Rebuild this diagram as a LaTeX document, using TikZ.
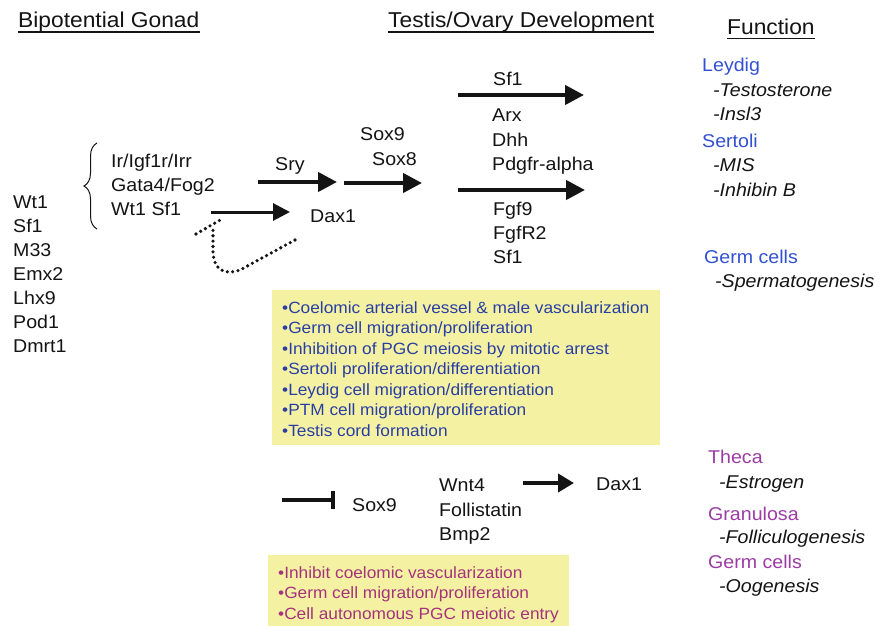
\documentclass[tikz,border=0pt]{standalone}
\usepackage{fontspec}
\setmainfont{Liberation Sans}[FakeStretch=1.06]
\usetikzlibrary{arrows.meta,decorations.pathreplacing}
\definecolor{boxyellow}{RGB}{245,241,163}
\definecolor{maleblue}{RGB}{50,80,210}
\definecolor{femalepurple}{RGB}{155,60,165}
\definecolor{boxblue}{RGB}{40,62,165}
\definecolor{boxred}{RGB}{165,50,125}
\definecolor{ink}{RGB}{20,20,20}
\begin{document}
\begin{tikzpicture}[x=1pt,y=-1pt,
  lbl/.style={anchor=base west, inner sep=0pt, text=ink, font=\fontsize{18.5}{24}\selectfont},
  fn/.style={lbl, font=\fontsize{18.5}{24}\selectfont\itshape},
  hdr/.style={anchor=base west, inner sep=0pt, text=ink, font=\fontsize{21.5}{26}\selectfont},
  boxtxt/.style={anchor=base west, inner sep=0pt, font=\fontsize{16.3}{20}\selectfont},
  uline/.style={line width=1.3pt, ink},
  bigarrow/.style={line width=4.2pt, ink, -{Triangle[length=19pt,width=19pt]}},
  thinarrow/.style={line width=3pt, ink, -{Triangle[length=17pt,width=17pt]}},
  inhib/.style={line width=3.6pt, ink, -{Bar[width=18pt,line width=3.6pt]}},
  dots/.style={line width=3.6pt, ink, line cap=round, dash pattern=on 0pt off 5.4pt},
  yellowbox/.style={fill=boxyellow, draw=none}
]
\useasboundingbox (0,0) rectangle (894,626);
\fill[white] (0,0) rectangle (894,626);

% headings
\node[hdr] (h1) at (18,28) {Bipotential Gonad};
\node[hdr] (h2) at (388,28) {Testis/Ovary Development};
\node[hdr] (h3) at (727,35) {Function};
\draw[uline] ([yshift=-4pt]h1.base west) -- ([yshift=-4pt]h1.base east);
\draw[uline] ([yshift=-4pt]h2.base west) -- ([yshift=-4pt]h2.base east);
\draw[uline] ([yshift=-3.5pt]h3.base west) -- ([yshift=-3.5pt]h3.base east);

% left list
\foreach \t [count=\i from 0] in {Wt1,Sf1,M33,Emx2,Lhx9,Pod1,Dmrt1}
  \node[lbl] (left\i) at (13,208+24*\i) {\t};

% brace group
\node[lbl] (g1) at (111,167) {Ir/Igf1r/Irr};
\node[lbl] (g2) at (111,191) {Gata4/Fog2};
\node[lbl] (g3) at (111,215) {Wt1 Sf1};
\coordinate (brB) at (97,229);
\coordinate (brT) at (97,143);
\draw[ink, line width=1pt, decorate, decoration={brace, amplitude=13pt, aspect=0.5}] (brB) -- (brT);

% Sry / Sox
\node[lbl] (sry) at (275,170) {Sry};
\coordinate (sryA) at (258,182);
\coordinate (sryB) at (337,182);
\draw[bigarrow] (sryA) -- (sryB);
\node[lbl] (sox9) at (360,140) {Sox9};
\node[lbl] (sox8) at (372,165) {Sox8};
\coordinate (soxA) at (344,183);
\coordinate (soxB) at (422,183);
\draw[bigarrow] (soxA) -- (soxB);

% Dax1 (male)
\node[lbl] (dax1) at (310,222) {Dax1};
\coordinate (daxA) at (211,212);
\coordinate (daxB) at (290,212);
\draw[thinarrow] (daxA) -- (daxB);

% dotted inhibition
\coordinate (dStart) at (295,240);
\coordinate (dMid) at (213,226);
\coordinate (barL) at (196,234);
\coordinate (barR) at (222,219);
\draw[dots] (dStart) -- (240,270) .. controls (222,276) and (214,268) .. (213,252) -- (dMid);
\draw[dots] (barL) -- (barR);

% top right column
\node[lbl] (sf1a) at (493,85) {Sf1};
\coordinate (ar1A) at (458,95);
\coordinate (ar1B) at (584,95);
\draw[bigarrow] (ar1A) -- (ar1B);
\node[lbl] (arx) at (492,121) {Arx};
\node[lbl] (dhh) at (492,146) {Dhh};
\node[lbl] (pdg) at (492,170) {Pdgfr-alpha};
\coordinate (ar2A) at (458,190);
\coordinate (ar2B) at (585,190);
\draw[bigarrow] (ar2A) -- (ar2B);
\node[lbl] (fgf9) at (493,215) {Fgf9};
\node[lbl] (fgfr2) at (493,239) {FgfR2};
\node[lbl] (sf1b) at (493,263) {Sf1};

% function (male)
\node[lbl, text=maleblue] (leydig) at (702,71) {Leydig};
\node[fn] (testo) at (713,96) {-Testosterone};
\node[fn] (insl3) at (713,120) {-Insl3};
\node[lbl, text=maleblue] (sertoli) at (702,147) {Sertoli};
\node[fn] (mis) at (713,171) {-MIS};
\node[fn] (inhb) at (713,196) {-Inhibin B};
\node[lbl, text=maleblue] (germm) at (704,263) {Germ cells};
\node[fn] (sperm) at (715,287) {-Spermatogenesis};

% male yellow box
\node[yellowbox, anchor=north west, minimum width=388pt, minimum height=155pt, inner sep=0pt] (box1) at (272,290) {};
\foreach \t [count=\i from 0] in {%
  {•Coelomic arterial vessel \& male vascularization},
  {•Germ cell migration/proliferation},
  {•Inhibition of PGC meiosis by mitotic arrest},
  {•Sertoli proliferation/differentiation},
  {•Leydig cell migration/differentiation},
  {•PTM cell migration/proliferation},
  {•Testis cord formation}}
  \node[boxtxt, text=boxblue] (m\i) at (282,313+20.5*\i) {\t};

% female row
\coordinate (inhA) at (282,500);
\coordinate (inhB) at (335,500);
\draw[inhib] (inhA) -- (inhB);
\node[lbl] (sox9f) at (352,511) {Sox9};
\node[lbl] (wnt4) at (439,491) {Wnt4};
\node[lbl] (foll) at (439,516) {Follistatin};
\node[lbl] (bmp2) at (439,540) {Bmp2};
\coordinate (fA) at (523,483);
\coordinate (fB) at (574,483);
\draw[bigarrow, -{Triangle[length=16pt,width=18pt]}] (fA) -- (fB);
\node[lbl] (dax1f) at (596,490) {Dax1};

% female yellow box
\node[yellowbox, anchor=north west, minimum width=301pt, minimum height=71pt, inner sep=0pt] (box2) at (268,555) {};
\node[boxtxt, text=boxred] (f0) at (278,578) {•Inhibit coelomic vascularization};
\node[boxtxt, text=boxred] (f1) at (278,598.5) {•Germ cell migration/proliferation};
\node[boxtxt, text=boxred] (f2) at (278,619) {•Cell autonomous PGC meiotic entry};

% function (female)
\node[lbl, text=femalepurple] (theca) at (708,463) {Theca};
\node[fn] (estro) at (719,488) {-Estrogen};
\node[lbl, text=femalepurple] (gran) at (708,520) {Granulosa};
\node[fn] (foli) at (719,543) {-Folliculogenesis};
\node[lbl, text=femalepurple] (germf) at (708,568) {Germ cells};
\node[fn] (oog) at (719,592) {-Oogenesis};
\end{tikzpicture}
\end{document}
